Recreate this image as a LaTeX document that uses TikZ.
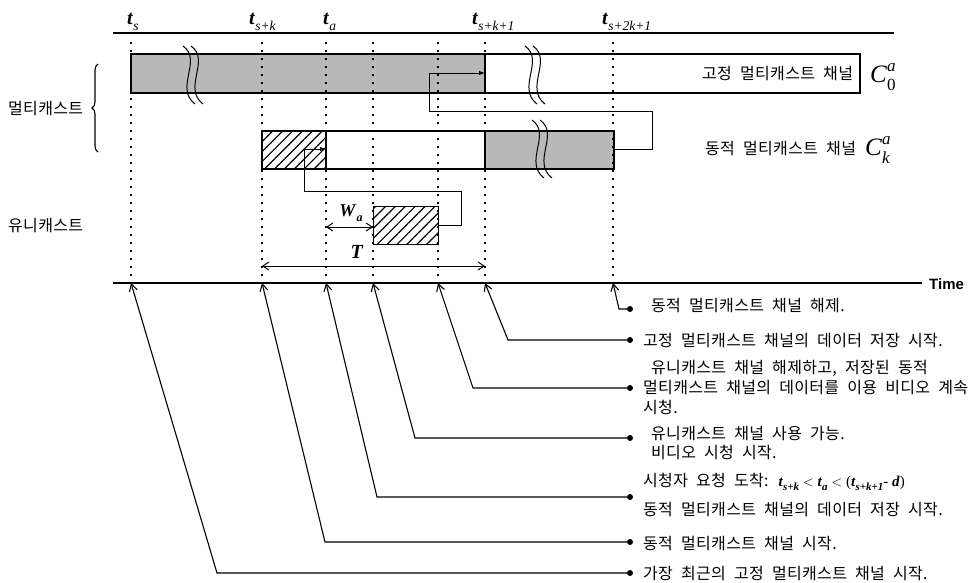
\documentclass[tikz,border=0pt]{standalone}
\usepackage{fontspec}
\setmainfont{Liberation Serif}
\newfontfamily\kor{Noto Sans CJK KR}[LetterSpace=2,WordSpace=2.1]
\newfontfamily\timefont{Liberation Sans}
\usetikzlibrary{patterns.meta,arrows.meta,decorations.pathreplacing}
\newcommand{\tlab}[1]{\textbf{\textit{t}}\raisebox{-0.3em}{\fontsize{13.5}{13.5}\selectfont\textit{#1}}}
\newcommand{\tsm}[1]{\textbf{\textit{t}}\raisebox{-0.3em}{\fontsize{11}{11}\selectfont\textbf{\textit{#1}}}}
\newcommand{\Csym}[2]{\textit{C}\makebox[0pt][l]{\raisebox{0.42em}{\fontsize{17}{17}\selectfont\textit{#2}}}\raisebox{-0.32em}{\fontsize{17}{17}\selectfont #1}}
\tikzset{
 ax/.style={line width=1.7pt},
 dotv/.style={line width=1.5pt, dash pattern=on 1.5pt off 6.5pt},
 shd/.style={fill=black!28},
 hatch/.style={pattern={Lines[angle=45,distance=7pt,line width=1.2pt]}},
 flow/.style={line width=1pt,-{Latex[length=6pt,width=4.5pt]}},
 ann/.style={line width=1.1pt,{Straight Barb[length=7pt,width=8pt]}-},
 enddot/.style={circle, fill, inner sep=0, minimum size=6pt},
 kr/.style={font=\kor\fontsize{16}{20}\selectfont, inner sep=0, anchor=base west},
 tl/.style={font=\fontsize{20}{20}\selectfont, inner sep=0, anchor=base west},
 dimarr/.style={line width=1pt,{Straight Barb[length=6pt,width=8pt]}-{Straight Barb[length=6pt,width=8pt]}},
 sq/.style={line width=1pt},
}
\begin{document}
\begin{tikzpicture}[x=1pt,y=-1pt]
\useasboundingbox (0,0) rectangle (975,582);
% top line and axis
\coordinate (topL) at (113,33); \coordinate (topR) at (894,33);
\draw[ax] (topL) -- (topR);
\coordinate (axL) at (113,283); \coordinate (axR) at (922,283);
\draw[ax] (axL) -- (axR);
\node[font=\timefont\bfseries\fontsize{15}{15}\selectfont, inner sep=0, anchor=base west] (time) at (929,289) {Time};
% fixed multicast bar
\fill[shd] (131,54) rectangle (485,93);
\draw[line width=1.2pt] (131,54) rectangle (860,93);
\draw[line width=1.2pt] (485,54) -- (485,93);
% dynamic multicast bar
\fill[hatch] (262,131) rectangle (326,169);
\fill[shd] (485,131) rectangle (614,169);
\draw[line width=1.2pt] (262,131) rectangle (614,169);
\draw[line width=1.2pt] (326,131) -- (326,169);
\draw[line width=1.2pt] (485,131) -- (485,169);
% unicast box
\node[draw, line width=1.2pt, hatch, minimum width=65pt, minimum height=38pt, inner sep=0, anchor=north west] (uni) at (373,206) {};
% break squiggles
\foreach \x in {183,191}{\draw[sq] (\x,46) .. controls (\x+20,60) and (\x-9,88) .. (\x+12,104);}
\foreach \x in {525,533}{\draw[sq] (\x,46) .. controls (\x+20,60) and (\x-9,88) .. (\x+12,104);}
\foreach \x in {532,540}{\draw[sq] (\x,120) .. controls (\x+20,134) and (\x-9,162) .. (\x+12,178);}
% dotted time lines
\foreach \x/\n in {131/ts,262/tsk,326/ta,373/tu,438/tv,485/tk,613/tt}{
  \coordinate (\n top) at (\x,42); \coordinate (\n bot) at (\x,278);
  \draw[dotv] (\n top) -- (\n bot);
  \coordinate (\n ax) at (\x,283);
}
% flow connectors
\coordinate (dynR) at (614,149); \coordinate (fixA) at (485,73);
\draw[flow] (dynR) -- (652,149) -- (652,111) -- (429,111) -- (429,73) -- (fixA);
\coordinate (uniR) at (438,225); \coordinate (dynA) at (326,149);
\draw[flow] (uniR) -- (461,225) -- (461,191) -- (304,191) -- (304,149) -- (dynA);
% dimension arrows
\coordinate (wl) at (326,227); \coordinate (wr) at (373,227);
\draw[dimarr] (wl) -- (wr);
\node[inner sep=0, font=\fontsize{18}{18}\selectfont] (wa) at (351,213) {\textbf{\textit{W}}\raisebox{-0.3em}{\fontsize{12}{12}\selectfont\textbf{\textit{a}}}};
\coordinate (Tl) at (262,266); \coordinate (Tr) at (485,266);
\draw[dimarr] (Tl) -- (Tr);
\node[inner sep=0, font=\fontsize{20}{20}\selectfont] (Tlab) at (357,252) {\textbf{\textit{T}}};
% time labels
\node[tl] (lts) at (127,24) {\tlab{s}};
\node[tl] (ltsk) at (249,24) {\tlab{s+k}};
\node[tl] (lta) at (323,24) {\tlab{a}};
\node[tl] (ltk) at (472,24) {\tlab{s+k+1}};
\node[tl] (ltt) at (602,24) {\tlab{s+2k+1}};
% channel labels
\node[kr] (fixlab) at (702,79) {고정 멀티캐스트 채널};
\node[inner sep=0, anchor=base west, font=\fontsize{25}{25}\selectfont] (c0) at (870,82) {\Csym{0}{a}};
\node[kr] (dynlab) at (705,154) {동적 멀티캐스트 채널};
\node[inner sep=0, anchor=base west, font=\fontsize{25}{25}\selectfont] (ck) at (865,155) {\Csym{\textit{k}}{a}};
% left labels
\node[kr] (mc) at (8,114) {멀티캐스트};
\node[kr] (uc) at (8,231) {유니캐스트};
\draw[line width=1.1pt, decorate, decoration={brace, amplitude=6pt}] (98,152) -- (98,64);
% annotations
\foreach \n/\bx/\by/\ax in {1/217/573/ts, 2/325/542/tsk, 3/377/497/ta, 4/415/438/tu, 5/473/388/tv, 6/508/340/tk, 7/619/309/tt}{
  \coordinate (b\n) at (\bx,\by);
  \node[enddot] (d\n) at (630,\by) {};
  \draw[ann] (\ax ax) -- (b\n) -- (d\n);
}
\node[kr] (n7) at (651,311) {동적 멀티캐스트 채널 해제.};
\node[kr] (n6) at (643,346) {고정 멀티캐스트 채널의 데이터 저장 시작.};
\node[kr] (n5a) at (651,373) {유니캐스트 채널 해제하고, 저장된 동적};
\node[kr] (n5b) at (643,393) {멀티캐스트 채널의 데이터를 이용 비디오 계속};
\node[kr] (n5c) at (643,413) {시청.};
\node[kr] (n4a) at (651,439) {유니캐스트 채널 사용 가능.};
\node[kr] (n4b) at (651,458) {비디오 시청 시작.};
\node[kr] (n3a) at (643,486) {시청자 요청 도착: {\rmfamily\fontsize{15}{15}\selectfont\tsm{s+k} $<$ \tsm{a} $<$ (\tsm{s+k+1}- \textbf{\textit{d}})}};
\node[kr] (n3b) at (643,515) {동적 멀티캐스트 채널의 데이터 저장 시작.};
\node[kr] (n2) at (643,549) {동적 멀티캐스트 채널 시작.};
\node[kr] (n1) at (643,579) {가장 최근의 고정 멀티캐스트 채널 시작.};
\end{tikzpicture}
\end{document}
